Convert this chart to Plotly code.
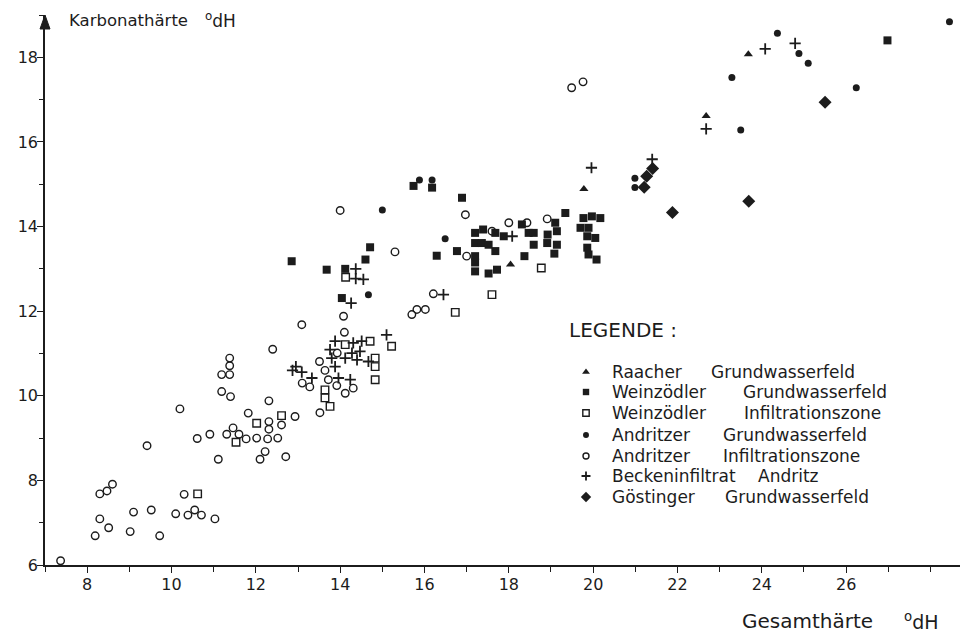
import plotly.graph_objects as go

# Gesamthärte (x) und Karbonathärte (y) in °dH, je Probenahmegebiet
raacher_x = [18.04, 19.78, 22.68, 23.68]
raacher_y = [13.10, 14.89, 16.61, 18.07]

wz_gw_x = [12.85, 13.68, 14.12, 14.60, 14.71, 14.04, 15.74, 16.18, 16.89, 16.29, 16.77,
           17.20, 17.39, 17.68, 17.88, 18.31, 18.47, 18.59, 18.59, 19.10, 19.14, 18.92,
           18.91, 19.14, 19.08, 19.34, 19.77, 19.97, 20.17, 19.70, 19.89, 19.86, 20.05,
           19.86, 19.89, 20.08, 17.68, 18.37, 17.20, 17.36, 17.52, 17.20, 17.20, 17.52,
           17.72, 17.20, 26.98]
wz_gw_y = [13.18, 12.98, 13.00, 13.22, 13.51, 12.31, 14.96, 14.92, 14.68, 13.31, 13.42,
           13.85, 13.93, 13.85, 13.77, 14.05, 13.85, 13.85, 13.57, 14.09, 13.89, 13.81,
           13.61, 13.57, 13.36, 14.32, 14.20, 14.24, 14.20, 13.97, 13.97, 13.77, 13.73,
           13.50, 13.34, 13.22, 13.42, 13.30, 13.61, 13.61, 13.57, 13.30, 13.15, 12.89,
           12.98, 12.94, 18.40]

wz_inf_x = [10.62, 11.53, 12.02, 12.61, 13.64, 13.64, 13.76, 14.12, 14.71, 15.22, 14.83,
            14.83, 14.83, 14.13, 17.60, 16.73, 18.77]
wz_inf_y = [7.68, 8.90, 9.35, 9.53, 10.14, 9.95, 9.75, 11.21, 11.29, 11.17, 10.89,
            10.69, 10.38, 12.80, 12.39, 11.97, 13.02]

an_gw_x = [15.00, 14.67, 15.88, 16.18, 16.49, 20.99, 20.99, 23.50, 23.29, 24.37, 24.88,
           25.10, 26.24, 28.45]
an_gw_y = [14.39, 12.39, 15.10, 15.10, 13.71, 15.14, 14.92, 16.28, 17.52, 18.57, 18.09,
           17.86, 17.28, 18.84]

an_inf_x = [7.37, 8.19, 8.51, 8.30, 8.30, 8.47, 8.60, 9.02, 9.10, 9.52, 9.72, 9.42,
            10.10, 10.39, 10.55, 10.71, 11.03, 10.30, 10.20, 10.61, 10.91, 11.11, 11.38,
            11.38, 11.19, 11.38, 11.19, 11.40, 11.31, 11.46, 11.60, 11.77, 11.82, 12.02,
            12.28, 12.52, 12.22, 12.10, 12.71, 12.31, 12.31, 12.31, 12.93, 12.61, 12.40,
            13.09, 13.10, 13.28, 13.72, 13.92, 14.31, 14.12, 13.52, 13.51, 13.64, 13.93,
            14.10, 14.08, 14.00, 15.30, 15.70, 15.82, 16.02, 16.21, 16.97, 17.00, 17.60,
            18.00, 18.43, 18.91, 19.49, 19.76]
an_inf_y = [6.10, 6.69, 6.88, 7.09, 7.68, 7.75, 7.91, 6.79, 7.25, 7.30, 6.69, 8.82,
            7.21, 7.18, 7.30, 7.18, 7.09, 7.67, 9.69, 8.99, 9.09, 8.50, 10.89,
            10.71, 10.50, 10.50, 10.10, 9.98, 9.09, 9.24, 9.09, 8.98, 9.59, 9.00,
            8.98, 9.00, 8.68, 8.50, 8.56, 9.88, 9.39, 9.21, 9.51, 9.31, 11.10,
            11.68, 10.30, 10.21, 10.38, 10.24, 10.18, 10.06, 9.60, 10.81, 10.60, 11.01,
            11.50, 11.88, 14.38, 13.40, 11.92, 12.04, 12.04, 12.41, 14.28, 13.30, 13.89,
            14.09, 14.09, 14.18, 17.28, 17.42]

becken_x = [19.96, 21.40, 22.68, 24.08, 24.79, 18.08, 16.45, 15.10, 14.26, 14.37, 14.37,
            14.55, 13.88, 13.76, 14.31, 14.51, 14.47, 14.28, 14.12, 13.80, 13.88, 14.40,
            14.67, 12.87, 12.95, 13.09, 13.33, 13.96, 14.24]
becken_y = [15.39, 15.59, 16.31, 18.20, 18.33, 13.77, 12.39, 11.44, 12.19, 13.00, 12.77,
            12.75, 11.29, 11.09, 11.25, 11.29, 11.05, 11.01, 10.89, 10.89, 10.69, 10.85,
            10.81, 10.60, 10.69, 10.56, 10.42, 10.42, 10.38]

goest_x = [21.21, 21.41, 21.27, 21.88, 25.50, 23.69]
goest_y = [14.93, 15.37, 15.19, 14.33, 16.94, 14.60]

x_ticks = [8, 10, 12, 14, 16, 18, 20, 22, 24, 26]
y_ticks = [6, 8, 10, 12, 14, 16, 18]

# Legendentexte: Gebiet, Art der Probenahmestelle
legend_first = ["Raacher", "Weinzödler", "Weinzödler", "Andritzer", "Andritzer",
                "Beckeninfiltrat", "Göstinger"]
legend_second = ["Grundwasserfeld", "Grundwasserfeld", "Infiltrationszone",
                 "Grundwasserfeld", "Infiltrationszone", "Andritz", "Grundwasserfeld"]

INK = "#1c1c1c"
FONT = "DejaVu Sans"

markers = [
    dict(symbol="triangle-up", size=8, color=INK),
    dict(symbol="square", size=8, color=INK),
    dict(symbol="square-open", size=7.5, color=INK, line=dict(width=1.4, color=INK)),
    dict(symbol="circle", size=7, color=INK),
    dict(symbol="circle-open", size=7.5, color=INK, line=dict(width=1.4, color=INK)),
    dict(symbol="cross-thin-open", size=8, color=INK, line=dict(width=1.8, color=INK)),
    dict(symbol="diamond", size=10, color=INK),
]
data = [(raacher_x, raacher_y), (wz_gw_x, wz_gw_y), (wz_inf_x, wz_inf_y),
        (an_gw_x, an_gw_y), (an_inf_x, an_inf_y), (becken_x, becken_y),
        (goest_x, goest_y)]

fig = go.Figure()
for i, ((xs, ys), mk) in enumerate(zip(data, markers)):
    fig.add_trace(go.Scatter(x=xs, y=ys, mode="markers",
                             name=f"{legend_first[i]} {legend_second[i]}",
                             marker=mk, showlegend=False))

# Legend block drawn on a hidden overlay axis measured in figure pixels
LEG_MARK_X = 586
LEG_FIRST_X = 610
LEG_SECOND_X = [709, 741, 742, 721, 721, 756, 723]
LEG_ROW_Y = [372, 392, 413, 435, 456, 476, 497]
legend_marker_scale = [0.85, 0.8, 0.85, 0.85, 0.8, 0.8, 0.8]

annotations = []
for i, mk in enumerate(markers):
    small = dict(mk)
    small["size"] = mk["size"] * legend_marker_scale[i]
    fig.add_trace(go.Scatter(x=[LEG_MARK_X], y=[LEG_ROW_Y[i]], mode="markers",
                             marker=small, xaxis="x2", yaxis="y2",
                             showlegend=False, hoverinfo="skip"))
    annotations.append(dict(text=legend_first[i], xref="x2", yref="y2",
                            x=LEG_FIRST_X, y=LEG_ROW_Y[i], xanchor="left",
                            yanchor="middle", showarrow=False,
                            font=dict(family=FONT, size=17, color=INK)))
    annotations.append(dict(text=legend_second[i], xref="x2", yref="y2",
                            x=LEG_SECOND_X[i], y=LEG_ROW_Y[i], xanchor="left",
                            yanchor="middle", showarrow=False,
                            font=dict(family=FONT, size=17, color=INK)))

annotations += [
    dict(text="LEGENDE :", xref="x2", yref="y2", x=567, y=330,
         xanchor="left", yanchor="middle", showarrow=False,
         font=dict(family=FONT, size=20, color=INK)),
    dict(text="Karbonathärte", xref="x2", yref="y2", x=67, y=20,
         xanchor="left", yanchor="middle", showarrow=False,
         font=dict(family=FONT, size=16.5, color=INK)),
    dict(text="<sup>o</sup>dH", xref="x2", yref="y2", x=203, y=20,
         xanchor="left", yanchor="middle", showarrow=False,
         font=dict(family=FONT, size=17, color=INK)),
    dict(text="Gesamthärte", xref="paper", yref="paper", x=(740 - 45) / 915,
         y=(565 - 621) / 550, xanchor="left", yanchor="middle", showarrow=False,
         font=dict(family=FONT, size=20, color=INK)),
    dict(text="<sup>o</sup>dH", xref="paper", yref="paper", x=(902 - 45) / 915,
         y=(565 - 621) / 550, xanchor="left", yanchor="middle", showarrow=False,
         font=dict(family=FONT, size=19, color=INK)),
]

axis_common = dict(
    showline=True, linecolor=INK, linewidth=1.5,
    ticks="outside", ticklen=6, tickwidth=1.3, tickcolor=INK,
    showgrid=False, zeroline=False,
    tickfont=dict(family=FONT, size=16, color=INK),
)

fig.update_layout(
    width=964, height=632,
    margin=dict(l=45, r=4, t=15, b=67),
    paper_bgcolor="white", plot_bgcolor="white",
    font=dict(family=FONT, color=INK),
    showlegend=False,
    xaxis=dict(range=[7.0, 28.7], tickmode="array", tickvals=x_ticks,
               ticklabelstandoff=-2,
               minor=dict(dtick=1, tick0=7, ticks="outside", ticklen=5, tickcolor=INK),
               **axis_common),
    yaxis=dict(range=[6.0, 19.0], tickmode="array", tickvals=y_ticks,
               ticklabelstandoff=-4,
               minor=dict(dtick=1, tick0=6, ticks="outside", ticklen=4, tickcolor=INK),
               **axis_common),
    xaxis2=dict(overlaying="x", range=[45, 960], visible=False, fixedrange=True),
    yaxis2=dict(overlaying="y", range=[565, 15], visible=False, fixedrange=True),
    annotations=annotations,
    shapes=[
        # arrow head on top of the y axis
        dict(type="path", xref="paper", yref="paper",
             path=f"M {-5/915} {1 - 14/550} L 0 1 L {5/915} {1 - 14/550} Z",
             fillcolor=INK, line=dict(color=INK, width=1)),
    ],
)

fig.write_html("out.html")
